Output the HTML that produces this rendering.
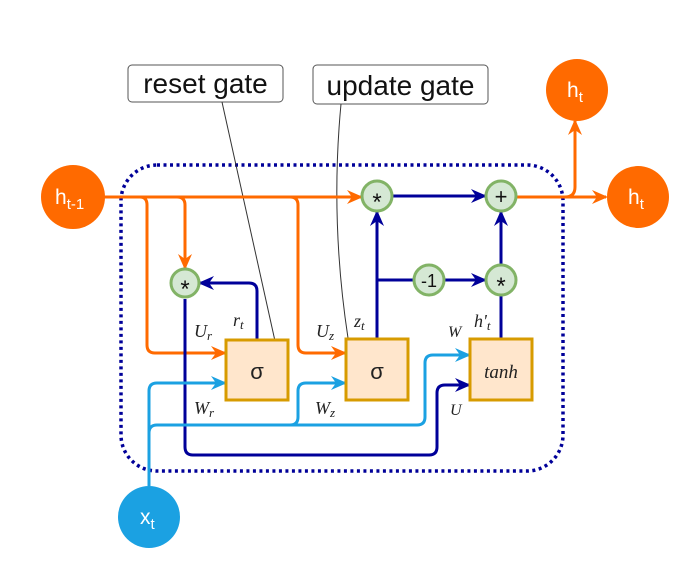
<!DOCTYPE html>
<html><head><meta charset="utf-8"><style>html,body{margin:0;padding:0;background:#fff}svg{display:block}</style></head>
<body>
<svg width="688" height="566" viewBox="0 0 688 566" xmlns="http://www.w3.org/2000/svg" font-family="Liberation Sans, sans-serif">
<defs>
<marker id="ao" viewBox="0 0 16 14" refX="14" refY="7" markerWidth="16" markerHeight="14" orient="auto" markerUnits="userSpaceOnUse"><path d="M0,0 L16,7 L0,14 L5,7 Z" fill="#ff6a00"/></marker>
<marker id="ab" viewBox="0 0 16 14" refX="14" refY="7" markerWidth="16" markerHeight="14" orient="auto" markerUnits="userSpaceOnUse"><path d="M0,0 L16,7 L0,14 L5,7 Z" fill="#000099"/></marker>
<marker id="al" viewBox="0 0 16 14" refX="14" refY="7" markerWidth="16" markerHeight="14" orient="auto" markerUnits="userSpaceOnUse"><path d="M0,0 L16,7 L0,14 L5,7 Z" fill="#1ba1e2"/></marker>
</defs>
<!-- dotted box -->
<rect x="121" y="165" width="442" height="306" rx="36" fill="none" stroke="#000099" stroke-width="3.5" stroke-dasharray="3,3.5"/>
<!-- callouts -->
<rect x="128" y="65" width="155" height="37" rx="4" fill="#fff" stroke="#555"/>
<text x="205.5" y="93" font-size="28" text-anchor="middle" fill="#111">reset gate</text>
<rect x="313" y="65" width="175" height="39" rx="4" fill="#fff" stroke="#555"/>
<text x="400.5" y="95" font-size="28" text-anchor="middle" fill="#111">update gate</text>
<path d="M222,102 L275,341" stroke="#333" stroke-width="1" fill="none"/>
<path d="M341,104 Q330,220 348,338" stroke="#333" stroke-width="1" fill="none"/>
<!-- orange lines -->
<g fill="none" stroke="#ff6a00" stroke-width="3">
<path d="M104,197 L361,197" marker-end="url(#ao)"/>
<path d="M140,197 Q147,197 147,205 L147,345 Q147,353 155,353 L225,353" marker-end="url(#ao)"/>
<path d="M177,197 Q185,197 185,205 L185,268" marker-end="url(#ao)"/>
<path d="M290,197 Q298,197 298,205 L298,345 Q298,353 306,353 L345,353" marker-end="url(#ao)"/>
<path d="M517,197 L606,197" marker-end="url(#ao)"/>
<path d="M565,197 Q575,197 575,187 L575,121" marker-end="url(#ao)"/>
</g>
<!-- dark blue lines -->
<g fill="none" stroke="#000099" stroke-width="3">
<path d="M257,340 L257,291 Q257,283 249,283 L200,283" marker-end="url(#ab)"/>
<path d="M185,299 L185,447 Q185,455 193,455 L429,455 Q437,455 437,447 L437,393 Q437,385 445,385 L469,385" marker-end="url(#ab)"/>
<path d="M377,339 L377,212" marker-end="url(#ab)"/>
<path d="M377,280 L413,280"/>
<path d="M445,280 L485,280" marker-end="url(#ab)"/>
<path d="M393,196 L485,196" marker-end="url(#ab)"/>
<path d="M501,339 L501,296"/>
<path d="M501,264 L501,212" marker-end="url(#ab)"/>
</g>
<!-- light blue lines -->
<g fill="none" stroke="#1ba1e2" stroke-width="3">
<path d="M149,486 L149,391 Q149,383 157,383 L225,383" marker-end="url(#al)"/>
<path d="M149,433 Q149,425 157,425 L290,425 Q298,425 298,417 L298,391 Q298,383 306,383 L345,383" marker-end="url(#al)"/>
<path d="M290,425 L417,425 Q425,425 425,417 L425,363 Q425,355 433,355 L469,355" marker-end="url(#al)"/>
</g>
<!-- boxes -->
<rect x="226" y="340" width="62" height="60" fill="#ffe6cc" stroke="#d79b00" stroke-width="3"/>
<text x="257" y="379" font-size="22" text-anchor="middle" fill="#222">σ</text>
<rect x="346" y="339" width="62" height="61" fill="#ffe6cc" stroke="#d79b00" stroke-width="3"/>
<text x="377" y="379" font-size="22" text-anchor="middle" fill="#222">σ</text>
<rect x="470" y="339" width="62" height="61" fill="#ffe6cc" stroke="#d79b00" stroke-width="3"/>
<text x="501" y="378" font-size="19" font-style="italic" font-family="Liberation Serif, serif" text-anchor="middle" fill="#222">tanh</text>
<!-- op circles -->
<g fill="#d5e8d4" stroke="#82b366" stroke-width="3">
<circle cx="185" cy="283" r="14"/>
<circle cx="377" cy="196" r="15"/>
<circle cx="501" cy="196" r="15"/>
<circle cx="429" cy="280" r="15"/>
<circle cx="501" cy="280" r="15"/>
</g>
<g font-size="24" text-anchor="middle" fill="#111">
<text x="185" y="297">*</text>
<text x="377" y="210">*</text>
<text x="501" y="204" font-size="22">+</text>
<text x="429" y="287" font-size="18">-1</text>
<text x="501" y="294">*</text>
</g>
<!-- italic labels -->
<g font-family="Liberation Serif, serif" font-style="italic" fill="#222" font-size="18">
<text x="194" y="337">U<tspan font-size="13" dy="3">r</tspan></text>
<text x="233" y="326">r<tspan font-size="13" dy="3">t</tspan></text>
<text x="194" y="414">W<tspan font-size="13" dy="3">r</tspan></text>
<text x="316" y="337">U<tspan font-size="13" dy="3">z</tspan></text>
<text x="315" y="414">W<tspan font-size="13" dy="3">z</tspan></text>
<text x="354" y="327">z<tspan font-size="13" dy="3">t</tspan></text>
<text x="448" y="337" font-size="16">W</text>
<text x="474" y="327">h'<tspan font-size="13" dy="3">t</tspan></text>
<text x="450" y="415" font-size="16">U</text>
</g>
<!-- terminal circles -->
<circle cx="73" cy="197" r="32" fill="#ff6a00"/>
<text x="55" y="204" font-size="21" fill="#fff">h<tspan font-size="15" dy="5">t-1</tspan></text>
<circle cx="577" cy="90" r="31" fill="#ff6a00"/>
<text x="567" y="97" font-size="21" fill="#fff">h<tspan font-size="15" dy="5">t</tspan></text>
<circle cx="638" cy="197" r="31" fill="#ff6a00"/>
<text x="628" y="204" font-size="21" fill="#fff">h<tspan font-size="15" dy="5">t</tspan></text>
<circle cx="149" cy="517" r="31" fill="#1ba1e2"/>
<text x="140" y="524" font-size="21" fill="#fff">x<tspan font-size="15" dy="5">t</tspan></text>
</svg>
</body></html>
